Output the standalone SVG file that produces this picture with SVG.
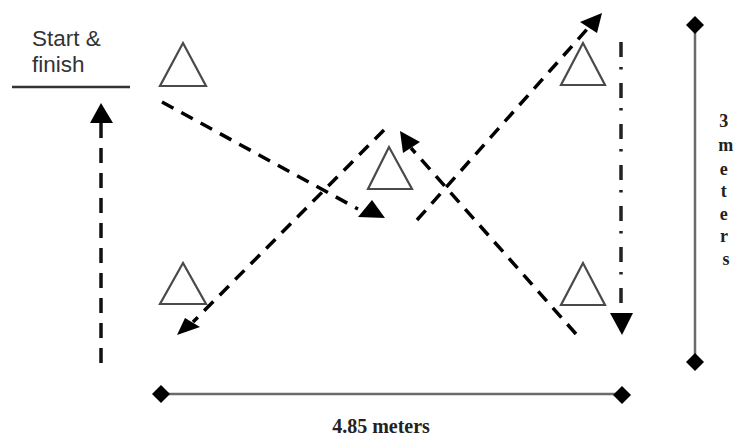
<svg xmlns="http://www.w3.org/2000/svg" width="734" height="438" viewBox="0 0 734 438">
<style>
.cone{fill:#fff;stroke:#4a4a4a;stroke-width:2.2;stroke-linejoin:miter}
.dash{fill:none;stroke:#000;stroke-width:3.5;stroke-dasharray:13 9}
.dashv{fill:none;stroke:#111;stroke-width:3.5;stroke-dasharray:15 10}
.dashdot{fill:none;stroke:#222;stroke-width:3.5;stroke-dasharray:15 10 2.5 13.5}
.head{fill:#000;stroke:none}
.dim{stroke:#6a6a6a;stroke-width:2.5;fill:none}
.diamond{fill:#000}
.lbl{font-family:"Liberation Sans",Arial,sans-serif;font-size:22.5px;fill:#333}
.meas{font-family:"Liberation Serif","Times New Roman",serif;font-weight:bold;fill:#222}
</style>
<rect width="734" height="438" fill="#fff"/>

<g id="start-finish">
<text class="lbl" x="32" y="46">Start &amp;</text>
<text class="lbl" x="32" y="72">finish</text>
<line x1="12" y1="87" x2="130" y2="87" stroke="#333" stroke-width="2.5"/>
</g>

<g id="cone-top-left"><polygon class="cone" points="183,43 160,86 206,86"/></g>
<g id="cone-center"><polygon class="cone" points="389,147 368,189 412,189"/></g>
<g id="cone-bottom-left"><polygon class="cone" points="183,263 160,304 206,304"/></g>
<g id="cone-top-right"><polygon class="cone" points="583,43 561,85 605,85"/></g>
<g id="cone-bottom-right"><polygon class="cone" points="583,263 561,305 605,305"/></g>

<g id="connectors">
<!-- start upward -->
<line class="dashv" x1="101" y1="363" x2="101" y2="123"/>
<polygon class="head" points="101,103 90,123 113,123"/>
<!-- top-left to center -->
<line class="dash" x1="162" y1="102" x2="358" y2="209"/>
<polygon class="head" points="372,200 358,217 385,218"/>
<!-- center top to bottom-left -->
<line class="dash" x1="384" y1="130" x2="193" y2="322"/>
<polygon class="head" points="177,335 185,318 200,327"/>
<!-- bottom-right to center -->
<line class="dash" x1="576" y1="334" x2="411" y2="148"/>
<polygon class="head" points="400,131 403,153 420,142"/>
<!-- center-bottom to top-right -->
<line class="dash" x1="417" y1="220" x2="589" y2="27"/>
<polygon class="head" points="602,13 580,22 597,33"/>
<!-- top-right to bottom-right dash-dot -->
<line class="dashdot" x1="621" y1="42" x2="621" y2="313"/>
<polygon class="head" points="622,335 610,313 633,313"/>
</g>

<g id="dim-vertical">
<line class="dim" x1="695" y1="25" x2="695" y2="362"/>
<polygon class="diamond" points="695,16 704,25 695,34 686,25"/>
<polygon class="diamond" points="695,353 704,362 695,371 686,362"/>
<text class="meas" font-size="18" text-anchor="middle">
<tspan x="726" y="127">3</tspan>
<tspan x="728" y="151">m</tspan>
<tspan x="726" y="175">e</tspan>
<tspan x="726" y="197">t</tspan>
<tspan x="726" y="220">e</tspan>
<tspan x="726" y="242">r</tspan>
<tspan x="726" y="265">s</tspan>
</text>
</g>

<g id="dim-horizontal">
<line class="dim" x1="161" y1="394" x2="622" y2="394"/>
<polygon class="diamond" points="161,385 170,394 161,403 152,394"/>
<polygon class="diamond" points="622,386 631,395 622,404 613,395"/>
<text class="meas" font-size="20" x="381" y="433" text-anchor="middle">4.85 meters</text>
</g>
</svg>
